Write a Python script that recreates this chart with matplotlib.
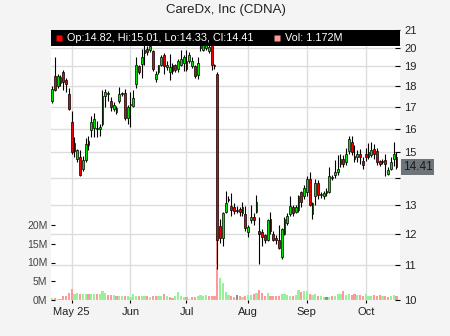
import matplotlib
matplotlib.use("Agg")
import matplotlib.pyplot as plt
from matplotlib.patches import Rectangle
from matplotlib.ticker import NullLocator
from matplotlib.transforms import blended_transform_factory
import numpy as np
import pandas as pd

plt.rcParams['font.family'] = ['Liberation Sans', 'DejaVu Sans']

title = "CareDx, Inc (CDNA)"

# trading days, Apr 22 - Oct 16 2025 (market holidays removed)
holidays = ["2025-05-26", "2025-06-19", "2025-07-04", "2025-09-01"]
dates = pd.bdate_range("2025-04-22", "2025-10-16")
dates = dates[~dates.isin(pd.to_datetime(holidays))]

opens = [17.30, 18.50, 18.00, 18.15, 18.70, 18.30, 17.60, 16.30, 15.40, 14.75,
         14.80, 14.35, 14.70, 15.50, 15.95, 16.05, 16.00, 16.00, 16.20, 17.50,
         17.60, 17.30, 16.90, 16.75, 17.30, 17.60, 17.65, 16.50, 17.10, 17.05,
         18.10, 19.00, 19.15, 19.70, 19.95, 19.85, 19.80, 18.35, 18.70, 19.05,
         19.60, 18.95, 18.70, 19.05, 19.05, 18.85, 19.10, 19.20, 19.30, 19.30,
         19.00, 19.00, 18.55, 20.00, 19.90, 20.00, 19.80, 20.40, 19.10, 18.60,
         12.25, 11.85, 12.75, 13.20, 12.95, 12.90, 12.80, 12.85, 12.70, 12.65,
         12.05, 12.45, 12.55, 12.75, 12.10, 12.05, 11.95, 11.80, 12.50, 12.00,
         11.85, 11.80, 11.25, 12.00, 12.35, 12.65, 12.90, 12.75, 12.80, 13.45,
         13.30, 13.45, 13.95, 12.65, 13.30, 13.80, 13.35, 13.30, 13.50, 13.45,
         14.00, 14.10, 14.20, 14.55, 14.75, 14.60, 15.05, 15.45, 14.85, 14.80,
         14.95, 14.65, 14.95, 14.80, 14.90, 15.15, 15.05, 14.65, 14.62, 14.70,
         14.15, 14.35, 14.75, 14.82]
highs = [18.00, 19.50, 18.60, 18.55, 18.80, 18.40, 17.90, 16.80, 15.65, 15.15,
         15.10, 14.85, 15.60, 15.70, 16.60, 16.70, 16.35, 16.20, 17.80, 17.85,
         17.75, 17.45, 17.25, 17.05, 17.95, 17.70, 17.85, 17.10, 17.70, 17.80,
         19.50, 19.10, 19.95, 20.20, 20.10, 20.30, 19.90, 18.75, 19.10, 19.60,
         19.70, 19.30, 19.65, 19.20, 19.15, 19.40, 19.90, 19.60, 19.90, 19.75,
         19.50, 19.10, 19.50, 20.30, 20.50, 20.60, 20.40, 20.60, 19.15, 18.70,
         12.50, 12.75, 13.50, 13.30, 13.40, 13.05, 12.95, 12.90, 13.10, 12.95,
         12.30, 13.00, 12.70, 13.35, 12.55, 12.15, 12.00, 12.50, 12.75, 12.10,
         11.95, 12.30, 12.20, 12.55, 12.70, 13.30, 13.00, 13.00, 13.35, 13.50,
         13.70, 14.05, 14.20, 13.10, 13.95, 13.90, 13.45, 13.50, 13.60, 14.40,
         14.10, 14.70, 14.90, 14.95, 14.90, 15.20, 15.70, 15.70, 15.30, 15.10,
         15.15, 14.80, 15.20, 15.40, 15.45, 15.35, 15.20, 14.70, 14.75, 14.95,
         14.40, 14.80, 15.45, 15.01]
lows = [17.20, 17.75, 17.90, 18.00, 17.80, 17.70, 16.85, 14.95, 14.80, 14.60,
        14.05, 14.25, 14.60, 15.10, 15.65, 15.65, 15.65, 15.70, 16.15, 17.00,
        17.30, 16.80, 16.80, 16.65, 17.20, 17.50, 16.40, 16.20, 16.10, 17.00,
        17.90, 18.60, 18.40, 19.10, 19.60, 19.75, 18.75, 18.20, 18.60, 19.00,
        18.60, 18.80, 18.30, 18.60, 18.70, 18.70, 19.00, 18.75, 18.75, 19.20,
        18.90, 18.40, 18.35, 19.80, 19.80, 19.90, 19.70, 18.80, 18.85, 10.90,
        11.70, 11.60, 12.70, 13.10, 12.60, 12.65, 12.70, 12.60, 12.60, 12.10,
        11.90, 12.35, 12.30, 12.70, 11.05, 11.60, 11.70, 11.75, 12.00, 11.75,
        11.65, 11.50, 11.20, 11.95, 12.30, 12.60, 12.60, 12.70, 12.75, 12.90,
        13.20, 13.30, 12.95, 12.50, 13.00, 13.20, 13.25, 13.20, 13.30, 13.40,
        13.90, 14.00, 14.10, 14.40, 14.40, 14.50, 14.95, 14.90, 14.60, 14.60,
        14.55, 14.35, 14.65, 14.75, 14.80, 14.75, 14.50, 14.45, 14.55, 14.05,
        14.10, 14.30, 14.45, 14.33]
closes = [17.85, 17.80, 18.50, 18.45, 18.20, 18.10, 16.90, 15.00, 15.05, 15.10,
          14.10, 14.70, 15.35, 15.30, 16.30, 16.45, 16.05, 16.08, 17.50, 17.70,
          17.68, 17.00, 17.10, 16.95, 17.60, 17.65, 16.50, 17.00, 17.15, 17.40,
          19.10, 18.70, 19.50, 19.90, 19.75, 20.10, 18.85, 18.60, 19.05, 19.50,
          19.00, 19.05, 18.95, 18.75, 18.80, 19.30, 19.40, 19.50, 18.85, 19.60,
          19.30, 18.50, 19.20, 20.10, 20.30, 20.40, 20.05, 19.05, 19.00, 11.80,
          11.85, 12.70, 13.05, 13.15, 12.80, 12.78, 12.78, 12.72, 12.90, 12.20,
          12.22, 12.55, 12.45, 13.10, 12.00, 11.90, 11.80, 12.45, 12.10, 11.80,
          11.78, 11.55, 12.15, 12.50, 12.60, 12.95, 12.70, 12.90, 13.30, 13.10,
          13.60, 13.95, 13.00, 13.05, 13.80, 13.35, 13.38, 13.40, 13.40, 14.05,
          14.02, 14.20, 14.35, 14.75, 14.55, 14.95, 15.55, 15.00, 14.75, 14.95,
          14.80, 14.50, 14.80, 15.00, 15.10, 14.95, 14.60, 14.55, 14.65, 14.55,
          14.30, 14.60, 14.95, 14.41]
volumes = [0.60, 0.55, 0.40, 0.35, 1.10, 1.10, 2.00, 2.90, 1.50, 1.80,
           1.50, 1.70, 1.70, 1.70, 1.70, 1.70, 1.70, 1.70, 2.40, 2.00,
           1.25, 1.25, 1.25, 1.15, 1.05, 1.05, 1.15, 1.05, 0.70, 1.60,
           1.15, 1.05, 1.05, 1.15, 1.00, 0.80, 1.15, 1.00, 1.15, 1.00,
           1.60, 1.05, 0.90, 0.60, 1.00, 2.05, 1.05, 0.80, 0.70, 0.30,
           0.70, 0.80, 1.15, 1.40, 1.05, 1.40, 1.05, 1.15, 1.05, 18.00,
           6.00, 4.60, 2.05, 1.40, 1.05, 0.90, 1.25, 1.05, 0.80, 1.00,
           1.40, 1.40, 1.50, 2.00, 2.60, 1.80, 1.15, 1.80, 1.05, 1.05,
           1.05, 1.15, 1.70, 1.50, 1.40, 1.15, 1.00, 1.35, 2.70, 2.05,
           2.30, 2.30, 1.70, 1.40, 1.50, 1.05, 1.05, 0.90, 0.70, 0.80,
           1.15, 1.15, 1.50, 1.60, 2.30, 1.35, 1.70, 1.40, 1.70, 1.40,
           1.25, 1.15, 1.60, 1.05, 1.05, 1.35, 1.15, 1.25, 1.05, 1.05,
           0.80, 1.15, 1.25, 1.172]  # millions

price_ticks = [10, 11, 12, 13, 14, 15, 16, 17, 18, 19, 20, 21]
vol_ticks = [0, 5, 10, 15, 20]
month_labels = ["May 25", "Jun", "Jul", "Aug", "Sep", "Oct"]
months = [5, 6, 7, 8, 9, 10]

o = np.array(opens)
h = np.array(highs)
l = np.array(lows)
c = np.array(closes)
v = np.array(volumes) * 1e6
idx = np.arange(len(dates))

up, down = '#00e400', '#ee0000'
candle_colors = [up if cc >= oo else down for oo, cc in zip(o, c)]
prev = np.concatenate([[o[0]], c[:-1]])
vol_colors = ['#98f098' if cc > pp else ('#ff9898' if cc < pp else '#8a8a8a')
              for cc, pp in zip(c, prev)]

fig = plt.figure(figsize=(4.5, 3.36), dpi=100, facecolor='#f4f4f4')
ax_vol = fig.add_axes([51 / 450, 36 / 336, 349 / 450, 270 / 336])
ax_vol.set_facecolor('white')
ax = ax_vol.twinx()
ax.patch.set_visible(False)

# volume (left axis)
ax_vol.set_axisbelow(True)
ax_vol.grid(axis='x', color='#dcdcdc', lw=1)
ax_vol.bar(idx, v, width=0.78, color=vol_colors, zorder=2)
ax_vol.set_ylim(0, 72e6)
ax_vol.set_yticks([t * 1e6 for t in vol_ticks], [f"{t}M" for t in vol_ticks])

month_pos = [int(np.argmax(dates.month == m)) for m in months]
ax_vol.set_xticks(month_pos, month_labels)
ax_vol.set_xlim(-0.39, 124.25)

# candles (right axis, log)
ax.set_axisbelow(True)
ax.set_yscale('log')
ax.grid(axis='y', color='#dcdcdc', lw=1)
ax.vlines(idx, l, h, color='black', lw=0.8, zorder=2)
ax.bar(idx, np.maximum(np.abs(c - o), 0.02), bottom=np.minimum(o, c), width=0.7,
       color=candle_colors, edgecolor='black', linewidth=0.5, zorder=3)
ax.set_yticks(price_ticks, ['' if t == 14 else str(t) for t in price_ticks])
ax.yaxis.set_minor_locator(NullLocator())
ax.set_ylim(10, 21)

for a in (ax, ax_vol):
    for s in a.spines.values():
        s.set_visible(False)

ax.tick_params(axis='y', which='major', direction='in', length=3.5, width=0.8,
               pad=3, labelsize=8, labelcolor='#222222')
ax_vol.tick_params(axis='y', direction='in', length=3, width=0.8, pad=2.5,
                   labelsize=7.5, labelcolor='#444444')
ax_vol.tick_params(axis='x', direction='out', length=2.5, width=0.8, pad=2.5,
                   labelsize=8, labelcolor='#222222')

# black info bar on top
bar_h = 16 / 270
ax.add_patch(Rectangle((0, 1 - bar_h), 1, bar_h, transform=ax.transAxes,
                       facecolor='black', edgecolor='none', zorder=10, clip_on=False))
ty = 1 - bar_h / 2
ax.plot([0.022], [ty], marker='s', ms=4.5, color='#ff0000', mec='none',
        transform=ax.transAxes, clip_on=False, zorder=11)
ax.text(0.045, ty, f"Op:{o[-1]:.2f}, Hi:{h[-1]:.2f}, Lo:{l[-1]:.2f}, Cl:{c[-1]:.2f}",
        transform=ax.transAxes, color='white', fontsize=7.8, va='center', ha='left', zorder=11)
ax.plot([0.647], [ty], marker='s', ms=4.5, color='#ff9898', mec='none',
        transform=ax.transAxes, clip_on=False, zorder=11)
ax.text(0.6705, ty, f"Vol: {volumes[-1]:.3f}M", transform=ax.transAxes,
        color='white', fontsize=7.8, va='center', ha='left', zorder=11)

# last price label
tr = blended_transform_factory(ax.transAxes, ax.transData)
ax.text(1.008, c[-1], f"{c[-1]:.2f}", transform=tr, ha='left', va='center',
        fontsize=8.5, color='#1a1a1a', zorder=12, clip_on=False,
        bbox=dict(boxstyle='square,pad=0.15', fc='#6d757a', ec='none'))

fig.text(225.5 / 450, 1 - 10.5 / 336, title, ha='center', va='center',
         fontsize=9.5, color='#222222')

fig.savefig('out.png', dpi=100, facecolor=fig.get_facecolor())
